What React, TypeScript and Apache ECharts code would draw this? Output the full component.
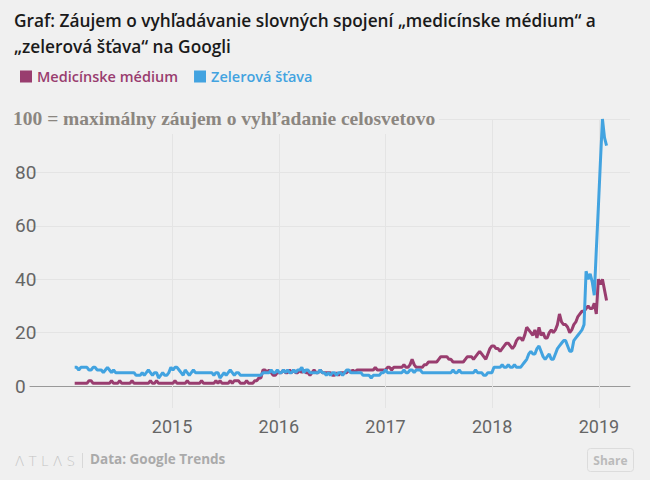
import React, { useEffect, useRef } from "react";
import * as echarts from "echarts";

// Weekly Google Trends data, first week starting 2 Feb 2014
const startYear = 2014;
const startMonth = 1; // February (0-based)
const startDay = 2;

const medicinskeMedium = [
  1, 1, 1, 1, 1, 1, 1,
  2, 2, 1, 1, 1, 1, 1, 1, 1, 1, 1,
  2, 1, 1, 1, 2, 1, 1, 1, 1, 1, 2,
  1, 1, 1, 1, 1, 1, 1, 1, 2, 1, 1,
  2, 1, 1, 1, 1, 1, 1, 1, 1, 2, 1,
  1, 1, 1, 1, 2, 1, 1, 1, 1, 1, 1,
  2, 1, 1, 1, 1, 1, 1, 2, 1, 2, 1,
  1, 1, 1, 2, 1, 2, 2, 2, 1, 1, 1,
  2, 1, 1, 1, 2, 2, 3, 3, 6, 6, 5,
  6, 5, 4, 4, 5, 5, 5, 6, 5, 5, 6,
  5, 6, 5, 5, 6, 5, 6, 5, 5, 4, 5,
  6, 5, 5, 6, 5, 5,
  5, 5, 5, 4, 4, 5, 4, 5, 5, 5,
  5, 6, 5, 6, 5, 6, 6, 6, 6, 6,
  6, 6, 6, 6, 7, 6, 6, 6, 6, 6,
  7, 7, 6, 7, 7, 7, 7, 7, 8, 7,
  7, 8, 10, 8, 7, 7, 7, 7, 8, 8,
  9, 9, 9, 9, 9, 10, 11, 11, 11, 11,
  10, 10, 9, 9, 9, 9, 9, 9, 10, 11,
  11, 11, 10, 11, 12, 13, 12, 11, 10, 12,
  14, 15, 15, 14, 14, 13, 14, 15, 16, 16,
  15, 14, 15, 17, 18, 18, 17, 19, 22, 21,
  20, 19, 21, 18, 22, 19, 20, 18, 18, 20,
  21, 20, 21, 23, 27, 24, 23, 23, 22, 20,
  21, 23, 24, 26, 27, 28, 28, 29, 30, 29,
  29, 31, 27, 40, 38, 40, 36, 32,
];

const zelerovaStava = [
  7, 7, 6, 7, 7, 7, 7, 6, 6, 7, 7,
  6, 6, 6, 5, 6, 7, 6, 5, 6, 5, 5,
  5, 5, 5, 5, 5, 5, 5, 5, 4, 4, 4,
  5, 4, 5, 6, 5, 4, 5, 5, 3, 4, 5,
  4, 4, 5, 7, 6, 7, 7, 6, 5, 4, 6,
  5, 4, 5, 6, 5, 5, 5, 5, 5, 5, 5,
  5, 5, 4, 5, 5, 3, 4, 5, 4, 5, 6,
  5, 4, 5, 5, 4, 4, 4, 4, 4, 4, 4,
  4, 4, 4, 4, 5, 5, 5, 5, 6, 5, 5,
  6, 5, 5, 6, 5, 6, 5, 5, 6, 5, 6,
  6, 7, 5, 6, 6, 5, 5, 5, 5, 5, 6, 5, 5,
  4, 5, 4, 5, 5, 4, 5, 5, 4, 5,
  6, 6, 5, 5, 5, 5, 5, 5, 4, 4,
  4, 4, 3, 4, 4, 4, 4, 5, 5, 6,
  5, 5, 5, 5, 5, 5, 5, 5, 6, 5,
  5, 6, 6, 5, 6, 6, 6, 5, 5, 5,
  5, 5, 5, 5, 5, 5, 5, 5, 5, 5,
  5, 5, 6, 5, 5, 6, 5, 5, 5, 5,
  5, 5, 5, 6, 5, 5, 5, 4, 4, 5,
  5, 5, 7, 7, 7, 7, 8, 7, 7, 8,
  7, 7, 8, 7, 7, 7, 8, 9, 10, 12,
  13, 12, 12, 14, 15, 13, 11, 10, 11, 12,
  10, 10, 12, 14, 15, 16, 17, 17, 15, 13,
  13, 17, 18, 19, 20, 21, 23, 43, 40, 42,
  39, 34, 51, 67, 84, 100, 93, 90,
];

const seriesNames = ["Medicínske médium", "Zelerová šťava"];
const seriesColors = ["#993d6f", "#42a3e0"];
const yearTicks = [2015, 2016, 2017, 2018, 2019];
const yTicks = [0, 20, 40, 60, 80, 100];
const xRange = [2013.669, 2019.291]; // decimal years

const titleLines = [
  "Graf: Záujem o vyhľadávanie slovných spojení „medicínske médium“ a",
  "„zelerová šťava“ na Googli",
];
const noteText = "100 = maximálny záujem o vyhľadanie celosvetovo";

// decimal year of week i
const weekYear = (i: number) => {
  const d = new Date(startYear, startMonth, startDay + 7 * i);
  const y = d.getFullYear();
  const a = new Date(y, 0, 1).getTime();
  const b = new Date(y + 1, 0, 1).getTime();
  return y + (d.getTime() - a) / (b - a);
};

export default function App() {
  const ref = useRef<HTMLDivElement>(null);

  useEffect(() => {
    if (!ref.current) return;
    const chart = echarts.init(ref.current, undefined, { renderer: "svg" });
    const pairs = (arr: number[]) => arr.map((v, i) => [weekYear(i), v]);

    chart.setOption({
      animation: false,
      backgroundColor: "#f0f0f0",
      legend: {
        left: 15,
        top: 64,
        icon: "rect",
        itemWidth: 12,
        itemHeight: 12,
        itemGap: 16,
        selectedMode: false,
        data: seriesNames.map((n, k) => ({
          name: n,
          textStyle: {
            color: seriesColors[k],
            fontFamily: "Open Sans",
            fontSize: 14.5,
            fontWeight: 600,
          },
        })),
      },
      grid: { left: 30, right: 20, top: 119, bottom: 94 },
      xAxis: {
        type: "value",
        min: xRange[0],
        max: xRange[1],
        axisLine: { show: true, lineStyle: { color: "#999", width: 1 } },
        axisTick: {
          show: true,
          length: 22,
          customValues: yearTicks,
          lineStyle: { color: "#e4e4e4" },
        },
        splitLine: { show: true, lineStyle: { color: "#e4e4e4", width: 1 } },
        axisLabel: {
          customValues: yearTicks,
          formatter: (v: number) => String(Math.round(v)),
          color: "#666",
          fontFamily: "Roboto",
          fontSize: 18,
          margin: 31,
        },
      },
      yAxis: {
        type: "value",
        min: yTicks[0],
        max: yTicks[yTicks.length - 1],
        interval: 20,
        axisLine: { show: false },
        axisTick: { show: false },
        splitLine: { lineStyle: { color: "#e4e4e4", width: 1 } },
        axisLabel: {
          formatter: (v: number) => (v === 100 ? "" : String(v)),
          color: "#666",
          fontFamily: "Roboto",
          fontSize: 19,
          align: "left",
          margin: 15,
        },
      },
      graphic: [
        {
          type: "text",
          x: 14,
          y: 20,
          z: 100,
          style: {
            text: titleLines[0],
            fill: "#1a1a1a",
            font: "600 17.3px 'Open Sans'",
            verticalAlign: "middle",
          },
        },
        {
          type: "text",
          x: 14,
          y: 46,
          z: 100,
          style: {
            text: titleLines[1],
            fill: "#1a1a1a",
            font: "600 17.3px 'Open Sans'",
            verticalAlign: "middle",
          },
        },
        {
          type: "text",
          x: 9,
          y: 118,
          z: 100,
          style: {
            text: noteText,
            fill: "#8b8680",
            font: "bold 19.5px 'Liberation Serif'",
            verticalAlign: "middle",
            backgroundColor: "#f0f0f0",
            padding: [4, 4, 8, 4],
          },
        },
        {
          type: "text",
          left: 15,
          top: 454,
          style: {
            text: "Λ T L Λ S",
            fill: "#c4c4c4",
            font: "300 13.5px 'DejaVu Sans'",
          },
        },
        {
          type: "rect",
          shape: { x: 82, y: 453, width: 1, height: 15 },
          style: { fill: "#d8d8d8" },
        },
        {
          type: "text",
          left: 90,
          top: 452,
          style: {
            text: "Data: Google Trends",
            fill: "#aaaaaa",
            font: "bold 13.5px 'Open Sans'",
          },
        },
        {
          type: "rect",
          shape: { x: 587.5, y: 448.5, width: 46, height: 23, r: 3 },
          style: { fill: "none", stroke: "#dcdcdc", lineWidth: 1 },
        },
        {
          type: "text",
          x: 610.5,
          y: 460,
          style: {
            text: "Share",
            fill: "#bbbbbb",
            font: "bold 12px 'Open Sans'",
            align: "center",
            verticalAlign: "middle",
          },
        },
      ],
      series: [
        {
          name: seriesNames[0],
          type: "line",
          data: pairs(medicinskeMedium),
          showSymbol: false,
          symbol: "none",
          lineStyle: { color: seriesColors[0], width: 3 },
          itemStyle: { color: seriesColors[0] },
        },
        {
          name: seriesNames[1],
          type: "line",
          data: pairs(zelerovaStava),
          showSymbol: false,
          symbol: "none",
          lineStyle: { color: seriesColors[1], width: 3 },
          itemStyle: { color: seriesColors[1] },
        },
      ],
    });
    return () => chart.dispose();
  }, []);

  return (
    <div
      ref={ref}
      style={{ position: "fixed", left: 0, top: 0, width: 650, height: 480 }}
    />
  );
}
